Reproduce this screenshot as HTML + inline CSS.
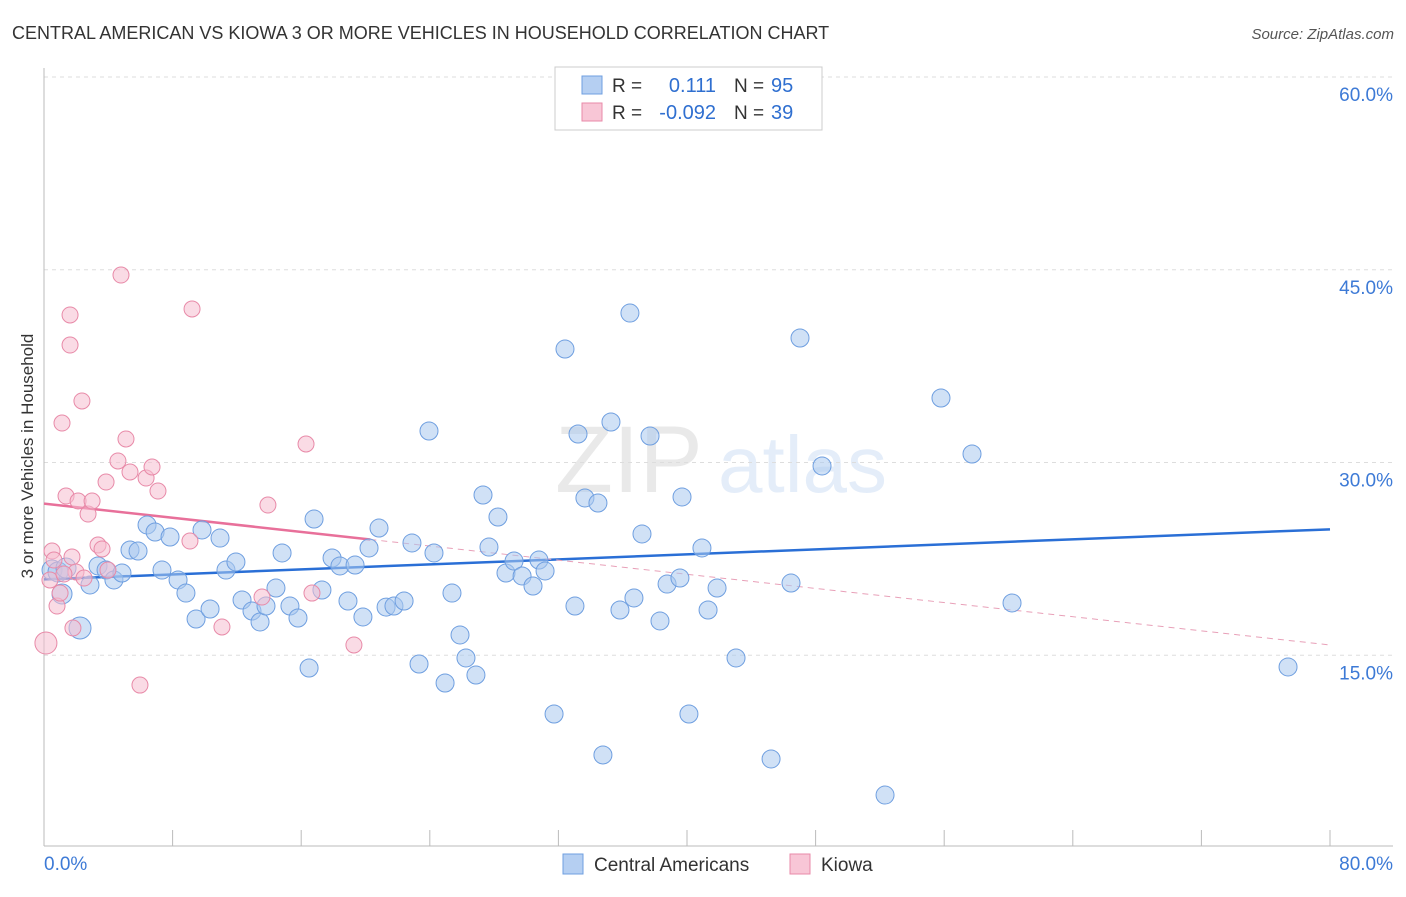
<!DOCTYPE html>
<html><head><meta charset="utf-8"><style>
body{margin:0;background:#fff;font-family:"Liberation Sans",sans-serif;}
svg text{font-family:"Liberation Sans",sans-serif;}
</style></head><body>
<svg id="chart" width="1406" height="892" xmlns="http://www.w3.org/2000/svg">
<text x="12" y="39" font-size="18" fill="#333">CENTRAL AMERICAN VS KIOWA 3 OR MORE VEHICLES IN HOUSEHOLD CORRELATION CHART</text>
<text x="1394" y="39" font-size="15" fill="#555" text-anchor="end" font-style="italic">Source: ZipAtlas.com</text>
<text transform="translate(33,456) rotate(-90)" font-size="17" fill="#333" text-anchor="middle">3 or more Vehicles in Household</text>
<g opacity="0.18"><text x="555" y="492" font-size="95" font-family="Liberation Serif" fill="#888">ZIP</text><text x="718" y="492" font-size="80" fill="#6f9fe0">atlas</text></g>
<g id="grid"></g><g id="axes"></g><g id="lines"></g><g id="pts"></g>
<g>
<rect x="555" y="67" width="267" height="63" fill="#fff" stroke="#ccc"/>
<rect x="582" y="76" width="20" height="18" fill="#b5cff2" stroke="#6f9fe0"/>
<rect x="582" y="103" width="20" height="18" fill="#f8c6d6" stroke="#e88aa8"/>
<text x="612" y="92" font-size="19" fill="#333">R =</text><text x="716" y="92" font-size="20" fill="#2f6fd0" text-anchor="end">0.111</text>
<text x="734" y="92" font-size="19" fill="#333">N =</text><text x="771" y="92" font-size="20" fill="#2f6fd0">95</text>
<text x="612" y="119" font-size="19" fill="#333">R =</text><text x="716" y="119" font-size="20" fill="#2f6fd0" text-anchor="end">-0.092</text>
<text x="734" y="119" font-size="19" fill="#333">N =</text><text x="771" y="119" font-size="20" fill="#2f6fd0">39</text>
</g>
<g>
<rect x="563" y="854" width="20" height="20" fill="#b5cff2" stroke="#6f9fe0"/><text x="594" y="871" font-size="19" fill="#333">Central Americans</text>
<rect x="790" y="854" width="20" height="20" fill="#f8c6d6" stroke="#e88aa8"/><text x="821" y="871" font-size="19" fill="#333">Kiowa</text>
</g>
</svg>
<script>
const yTicks=[15,30,45,60];
const xTickLabels=["0.0%","80.0%"];
const blueX=[],blueY=[],pinkX=[],pinkY=[];
const bluePx=[[52,570],[58,572],[62,594],[66,568],[80,628],[90,585],[98,566],[106,570],[114,580],[122,573],[130,550],[138,551],[147,525],[155,532],[162,570],[170,537],[178,580],[186,593],[196,619],[202,530],[210,609],[220,538],[226,570],[236,562],[242,600],[252,611],[260,622],[266,606],[276,588],[282,553],[290,606],[298,618],[309,668],[314,519],[322,590],[332,558],[340,566],[348,601],[355,565],[363,617],[369,548],[379,528],[386,607],[394,606],[404,601],[412,543],[419,664],[429,431],[434,553],[445,683],[452,593],[460,635],[466,658],[476,675],[483,495],[489,547],[498,517],[506,573],[514,561],[522,576],[533,586],[539,560],[545,571],[554,714],[565,349],[575,606],[578,434],[585,498],[598,503],[603,755],[611,422],[620,610],[630,313],[634,598],[642,534],[650,436],[660,621],[667,584],[680,578],[682,497],[689,714],[702,548],[708,610],[717,588],[736,658],[771,759],[791,583],[800,338],[822,466],[885,795],[941,398],[972,454],[1012,603],[1288,667],[744,103]];
const pinkPx=[[46,643],[52,551],[54,560],[57,606],[60,593],[62,423],[66,496],[70,315],[70,345],[72,557],[73,628],[76,572],[78,501],[82,401],[84,578],[88,514],[92,501],[98,545],[102,549],[106,482],[118,461],[121,275],[126,439],[130,472],[140,685],[146,478],[152,467],[158,491],[190,541],[192,309],[222,627],[262,597],[268,505],[306,444],[312,593],[354,645],[50,580],[64,574],[108,570]];
bluePx.forEach(p=>{blueX.push(+((p[0]-44)/16.075).toFixed(2));blueY.push(+((848-p[1])/12.85).toFixed(2));});
pinkPx.forEach(p=>{pinkX.push(+((p[0]-44)/16.075).toFixed(2));pinkY.push(+((848-p[1])/12.85).toFixed(2));});
const blueTrend=[20.9,24.8];
const pinkTrend=[26.8,15.8];
const xs=v=>44+v*16.075, ys=v=>848-v*12.85;
const NS="http://www.w3.org/2000/svg";
function mk(tag,parent,attrs){const e=document.createElementNS(NS,tag);for(const k in attrs)e.setAttribute(k,attrs[k]);document.getElementById(parent).appendChild(e);return e;}
yTicks.forEach(t=>{
 const l=mk('line','grid',{x1:44,x2:1393,y1:ys(t),y2:ys(t),stroke:'#ddd','stroke-dasharray':'4,4'});
 
 
 const tx=mk('text','grid',{x:1393,y:ys(t)+24,'font-size':19,fill:'#3d7ad6','text-anchor':'end'});
 tx.textContent=t.toFixed(1)+'%';
 
 
});
let a=mk('line','axes',{x1:44,x2:44,y1:68,y2:846,stroke:'#bbb'});


a=mk('line','axes',{x1:44,x2:1393,y1:846,y2:846,stroke:'#bbb'});


for(let i=1;i<=10;i++){const t=mk('line','axes',{x1:xs(i*8),x2:xs(i*8),y1:830,y2:846,stroke:'#bbb'});
 
 }
[[0,'start',44],[80,'end',1393]].forEach((d,i)=>{const t=mk('text','axes',{x:d[2],y:870,'font-size':19,fill:'#3d7ad6','text-anchor':d[1]});t.textContent=xTickLabels[i];
 
 });
function dot(x,y,r,fill,stroke,name){const c=mk('circle','pts',{cx:xs(x),cy:ys(y),r:r,fill:fill,'fill-opacity':0.55,stroke:stroke,'stroke-width':1});
 
 }
blueX.forEach((x,i)=>dot(x,blueY[i],i<5?(i==4?11:10):9,'#a9c8ee','#6f9fe0','central-americans-point'));
pinkX.forEach((x,i)=>dot(x,pinkY[i],i==0?11:8,'#f6bdd0','#e88aa8','kiowa-point'));
let ln=mk('line','lines',{x1:xs(0),y1:ys(blueTrend[0]),x2:xs(80),y2:ys(blueTrend[1]),stroke:'#2a6fd6','stroke-width':2.5});


const pAt=v=>pinkTrend[0]+(pinkTrend[1]-pinkTrend[0])*v/80;
ln=mk('line','lines',{x1:xs(0),y1:ys(pAt(0)),x2:xs(20.3),y2:ys(pAt(20.3)),stroke:'#e8709a','stroke-width':2.5});


ln=mk('line','lines',{x1:xs(20.3),y1:ys(pAt(20.3)),x2:xs(80),y2:ys(pAt(80)),stroke:'#e8a0b8','stroke-width':1,'stroke-dasharray':'6,5'});


</script>
</body></html>
